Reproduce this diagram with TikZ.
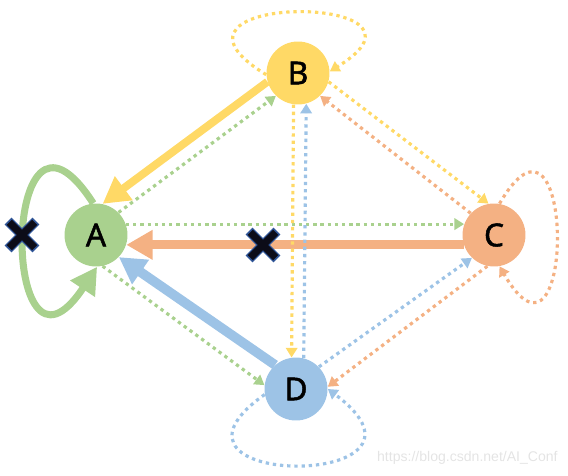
\documentclass[tikz,border=0pt]{standalone}
\usepackage{fontspec}
\setmainfont{Noto Sans}
\newfontfamily\statefont[FakeBold=1.6]{Noto Sans}
\newfontfamily\wmfont{Liberation Sans}
\usetikzlibrary{arrows.meta,shapes.misc}
\definecolor{nodeA}{RGB}{169,209,142}
\definecolor{nodeB}{RGB}{255,217,102}
\definecolor{nodeC}{RGB}{244,177,131}
\definecolor{nodeD}{RGB}{157,195,230}
\definecolor{xedge}{RGB}{47,85,151}
\definecolor{xcore}{RGB}{12,12,24}
\definecolor{wmgray}{RGB}{228,228,228}

\begin{document}
\begin{tikzpicture}[
    x=0.02cm, y=-0.02cm,
    state/.style={circle, inner sep=0pt, minimum size=1.26cm, font=\statefont\fontsize{18}{19}\selectfont},
    strong/.style={line width=#1, -{Triangle[length=15pt, width=16pt]}},
    weak/.style={line width=1.8pt, dash pattern=on 1.9pt off 2.2pt, -{Triangle[length=5.5pt, width=6.5pt]}},
    xmark/.style={cross out, draw=xedge, line width=5.6pt, minimum size=0.36cm, inner sep=0pt},
    xinner/.style={cross out, draw=xcore, line width=4.2pt, minimum size=0.36cm, inner sep=0pt}
  ]
  \useasboundingbox (0,0) rectangle (568,476);

  \node[state, fill=nodeA] (A) at (96,235) {A};
  \node[state, fill=nodeB] (B) at (298,73) {B};
  \node[state, fill=nodeC] (C) at (494,235) {C};
  \node[state, fill=nodeD] (D) at (296,389) {D};

  % strong edges into A
  \draw[strong=4.5pt, nodeB] (B.196) -- (A.78);
  \draw[strong=5pt, nodeC] (C.198) -- (A.-18);
  \draw[strong=5.5pt, nodeD] (D.131) -- (A.-44);
  \draw[strong=4pt, nodeA] (A.95) .. controls (0,58) and (0,413) .. (A.-88);

  % weak edges
  \draw[weak, nodeA] (A.45) -- (B.226);
  \draw[weak, nodeA] (A.20) -- (C.160);
  \draw[weak, nodeA] (A.-78) -- (D.173);
  \draw[weak, nodeB] (B.262) -- (D.98);
  \draw[weak, nodeD] (D.76) -- (B.285);
  \draw[weak, nodeB] (B.-16) -- (C.100);
  \draw[weak, nodeC] (C.137) -- (B.-46);
  \draw[weak, nodeD] (D.44) -- (C.226);
  \draw[weak, nodeC] (C.258) -- (D.4);

  % weak self loops
  \draw[weak, nodeB] (B.183) .. controls (130,-8) and (460,-8) .. (B.3);
  \draw[weak, nodeC] (C.80) .. controls (576,72) and (576,398) .. (C.-80);
  \draw[weak, nodeD] (D.190) .. controls (130,490) and (463,490) .. (D.0);

  % cut marks
  \node[xmark] (cutA) at (22,235) {};
  \node[xinner] (cutAcore) at (cutA) {};
  \node[xmark] (cutCA) at (263,245) {};
  \node[xinner] (cutCAcore) at (cutCA) {};

  \node[text=wmgray, font=\wmfont\fontsize{8}{9}\selectfont, anchor=east, inner sep=0pt] (mark) at (558,458) {https://blog.csdn.net/AI\_Conf};
\end{tikzpicture}
\end{document}
